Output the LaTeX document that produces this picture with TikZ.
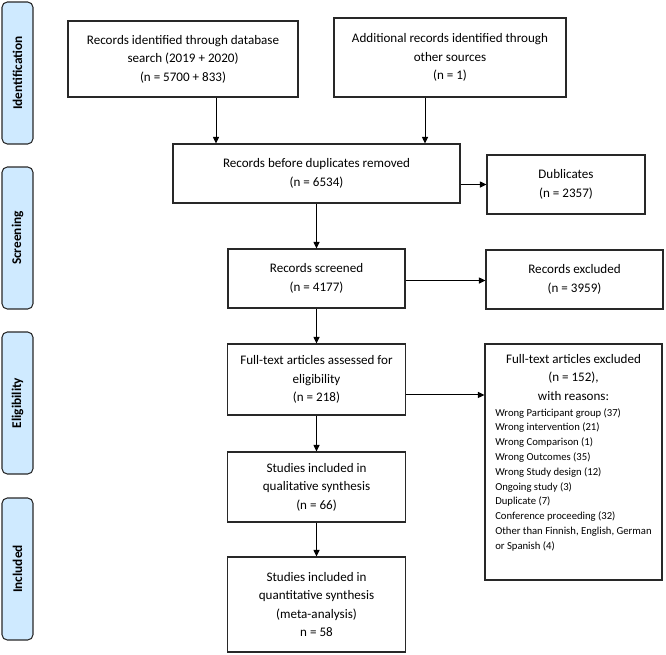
\documentclass[tikz,border=0pt]{standalone}
\usepackage{fontspec}
\setmainfont{Carlito}
\usetikzlibrary{arrows.meta,calc}
\definecolor{tabblue}{RGB}{207,234,255}
\definecolor{lineg}{RGB}{40,40,40}
\tikzset{
  px/.style={x=0.75pt,y=-0.75pt},
  tab/.style={draw=lineg,line width=0.8pt,fill=tabblue,rounded corners=4pt,
    minimum width=23.25pt,minimum height=106.5pt,inner sep=0pt},
  tabtext/.style={rotate=90,font=\fontsize{10}{12}\selectfont\bfseries,inner sep=0pt},
  box/.style={draw=lineg,line width=0.8pt,inner sep=0pt,align=center,
    font=\fontsize{9.8}{13.9}\selectfont},
  plain/.style={inner sep=0pt},
  arr/.style={draw=black,line width=0.75pt,-{Triangle[length=5pt,width=4.6pt]}}
}
\begin{document}
\begin{tikzpicture}[px]
\useasboundingbox (0,0) rectangle (666,654);
% phase tabs
\node[tab] (T1) at (17.5,73) {};
\node[tabtext] (T1t) at (T1.center) {Identification};
\node[tab] (T2) at (17.5,238) {};
\node[tabtext] (T2t) at (T2.center) {Screening};
\node[tab] (T3) at (17.5,403) {};
\node[tabtext] (T3t) at (T3.center) {Eligibility};
\node[tab] (T4) at (17.5,569) {};
\node[tabtext] (T4t) at (T4.center) {Included};
% boxes
\node[box,minimum width=172.5pt,minimum height=57pt] (B1) at (183,59)
  {Records identified through database\\search (2019 + 2020)\\(n = 5700 + 833)};
\node[box,minimum width=174pt,minimum height=59.25pt] (B2) at (450,57.5)
  {Additional records identified through\\other sources\\(n = 1)};
\node[box,minimum width=215.25pt,minimum height=44.25pt] (B3) at (316.5,173.5)
  {Records before duplicates removed\\(n = 6534)};
\node[box,minimum width=118.5pt,minimum height=44.25pt] (DUP) at (566,184.5)
  {Dublicates\\(n = 2357)};
\node[box,minimum width=132.75pt,minimum height=44.25pt] (RS) at (316.5,278.5)
  {Records screened\\(n = 4177)};
\node[box,minimum width=132.75pt,minimum height=44.25pt] (RE) at (574.5,279.5)
  {Records excluded\\(n = 3959)};
\node[box,minimum width=133.5pt,minimum height=53.25pt] (FT) at (316.5,379.5)
  {Full-text articles assessed for\\eligibility\\(n = 218)};
\node[box,minimum width=132.75pt,minimum height=177pt] (FTE) at (573.5,462) {};
\node[plain,anchor=base] (FTEh) at (573.5,363)
  {\begin{minipage}[t]{120pt}\centering\fontsize{9.8}{13.9}\selectfont
   Full-text articles excluded\\(n = 152),\\with reasons:\end{minipage}};
\node[plain,anchor=base west] (FTEl) at (495,416)
  {\begin{minipage}[t]{125pt}\raggedright\fontsize{8}{11.1}\selectfont
   Wrong Participant group (37)\\
   Wrong intervention (21)\\
   Wrong Comparison (1)\\
   Wrong Outcomes (35)\\
   Wrong Study design (12)\\
   Ongoing study (3)\\
   Duplicate (7)\\
   Conference proceeding (32)\\
   Other than Finnish, English, German\\
   or Spanish (4)\end{minipage}};
\node[box,minimum width=133.5pt,minimum height=52.5pt] (QL) at (316.5,487)
  {Studies included in\\qualitative synthesis\\(n = 66)};
\node[box,minimum width=133.5pt,minimum height=71.25pt] (QN) at (316.5,604.5)
  {Studies included in\\quantitative synthesis\\(meta-analysis)\\n = 58};
% connectors
\draw[arr] ([xshift=24.75pt]B1.south) -- ([xshift=24.75pt]B1.south |- B3.north);
\draw[arr] ([xshift=-18.75pt]B2.south) -- ([xshift=-18.75pt]B2.south |- B3.north);
\draw[arr] (B3.east |- DUP.west) -- (DUP.west);
\draw[arr] (B3.south) -- (RS.north);
\draw[arr] ([yshift=-1.5pt]RS.east) -- ([yshift=-1.5pt]RS.east -| RE.west);
\draw[arr] (RS.south) -- (FT.north);
\draw[arr] ([yshift=-11.6pt]FT.east) -- ([yshift=-11.6pt]FT.east -| FTE.west);
\draw[arr] (FT.south) -- (QL.north);
\draw[arr] (QL.south) -- (QN.north);
\end{tikzpicture}
\end{document}
